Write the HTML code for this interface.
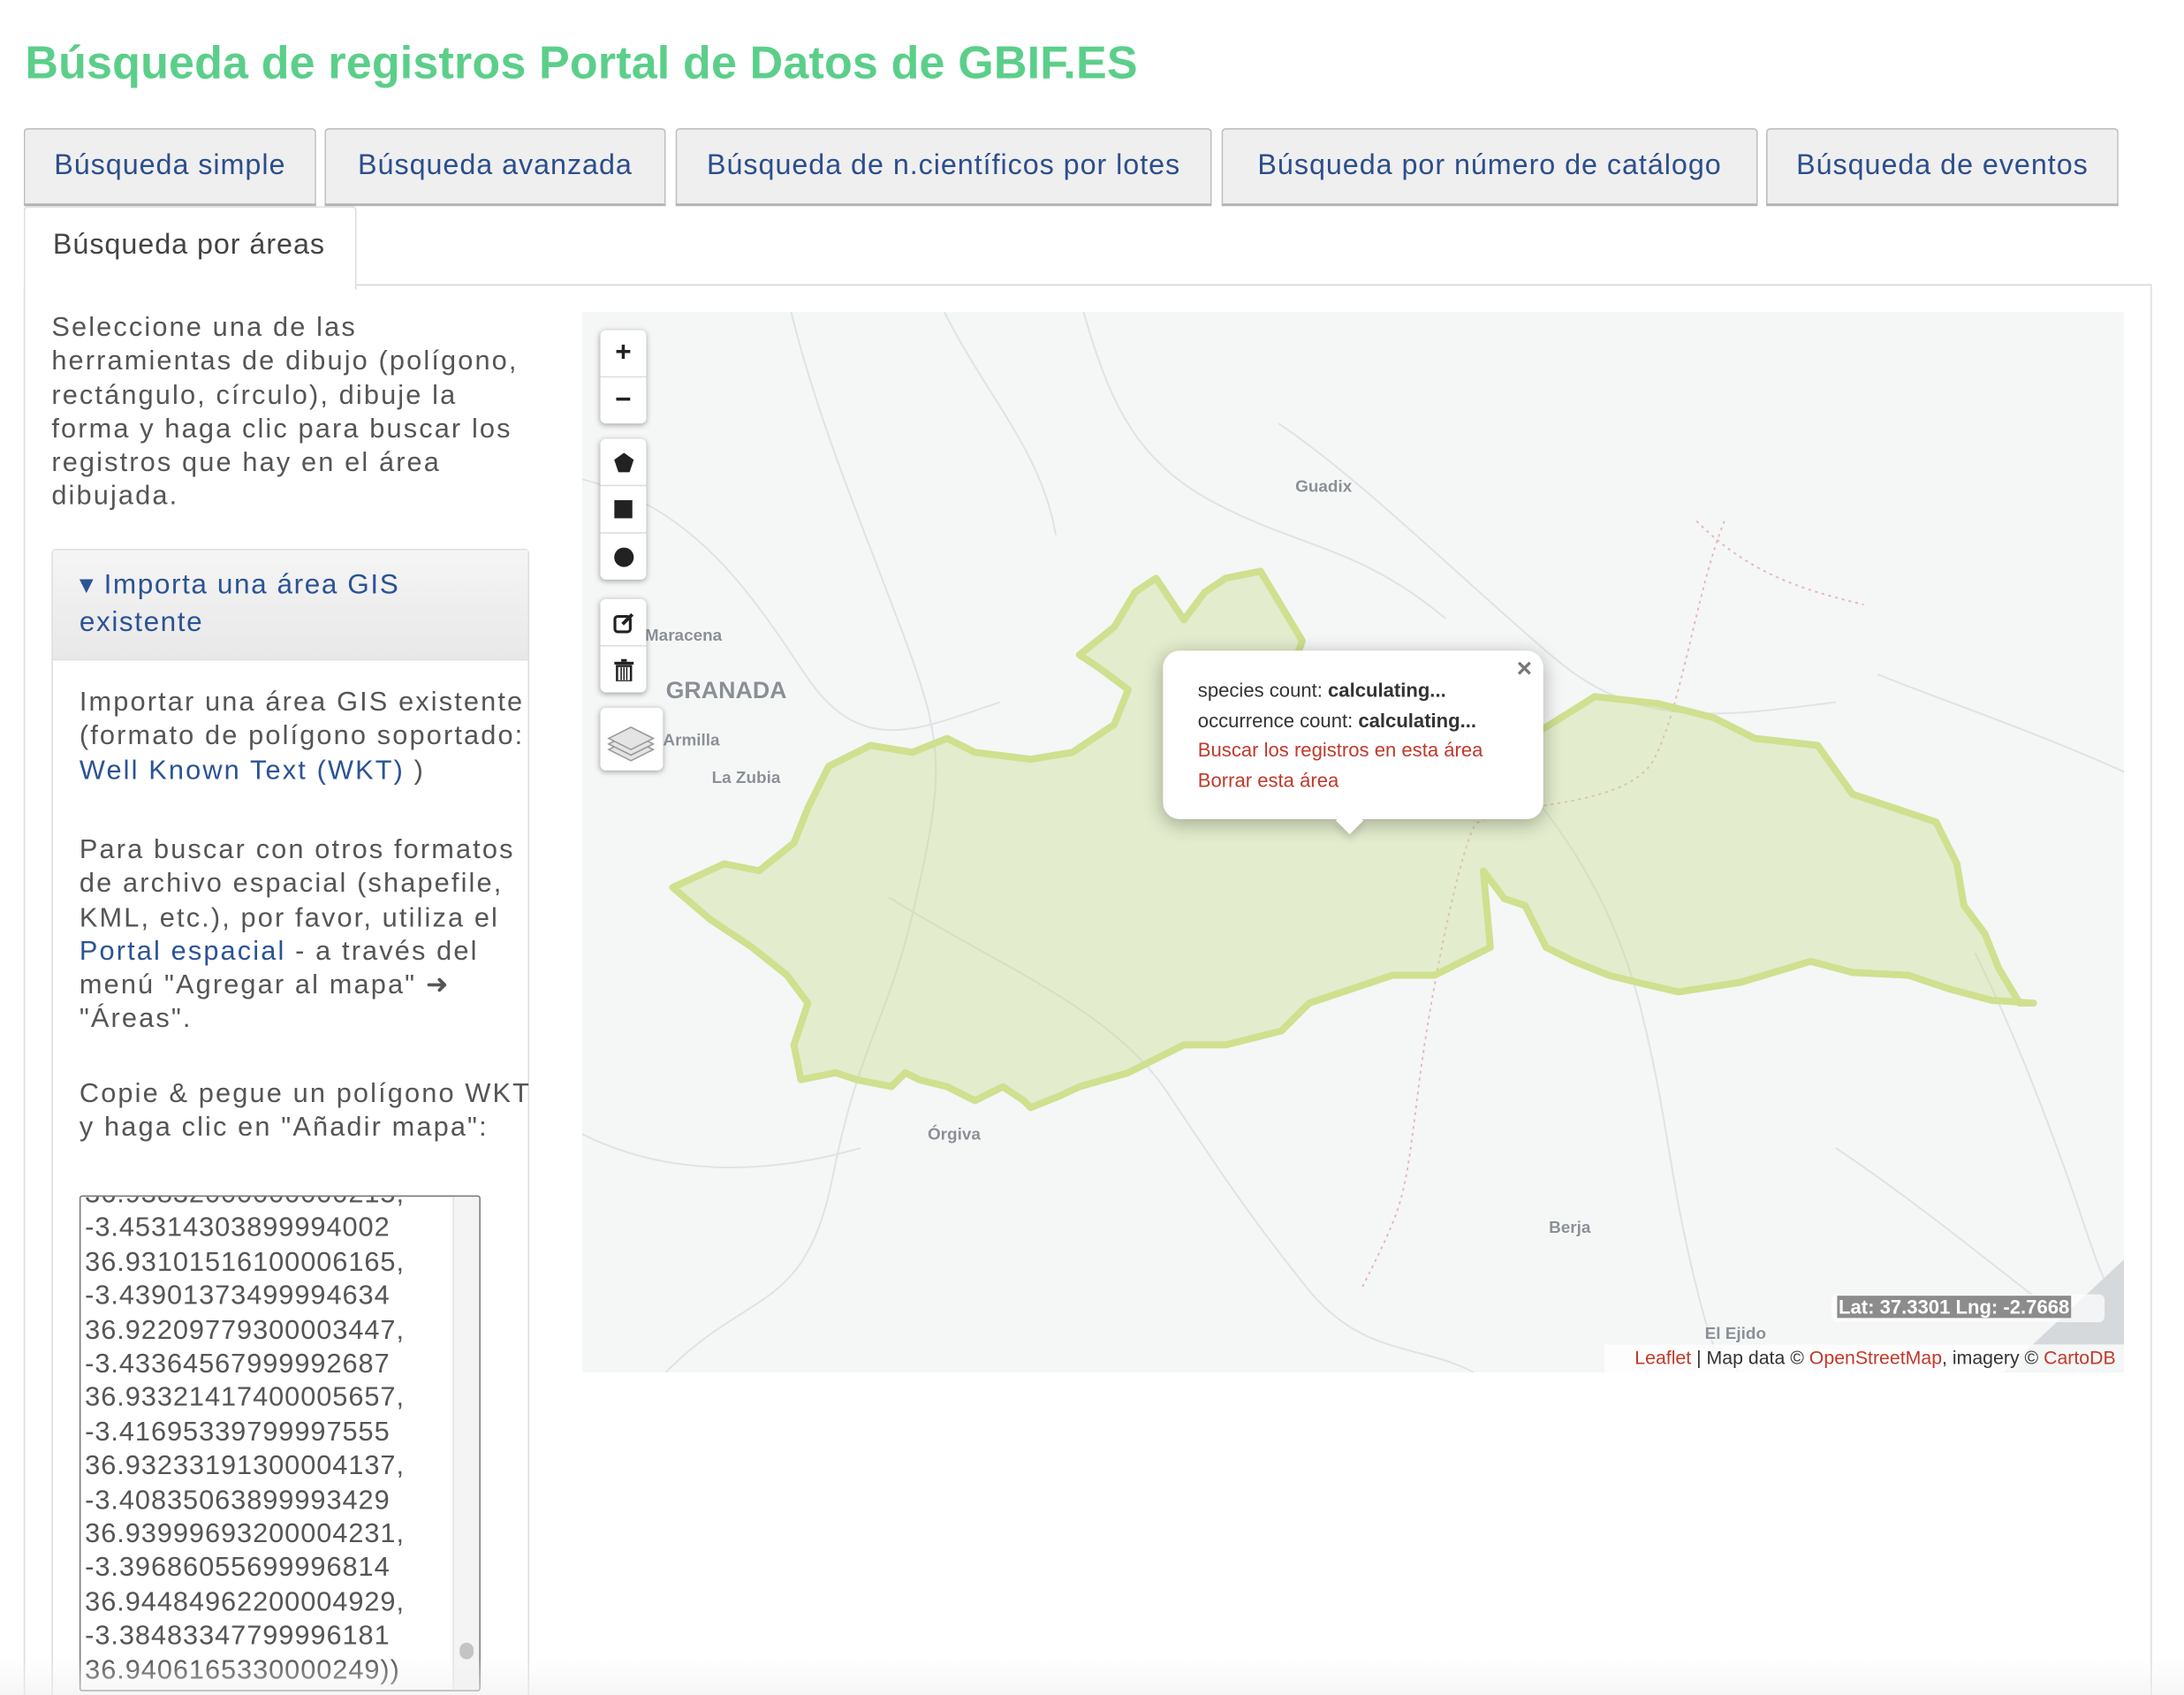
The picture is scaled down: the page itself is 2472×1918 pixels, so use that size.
<!DOCTYPE html>
<html><head><meta charset="utf-8">
<style>
html,body{margin:0;padding:0;background:#fff;overflow:hidden}
body{width:2472px;height:1918px;position:relative}
#wrap{position:absolute;left:0;top:0;width:1568px;height:1217px;transform:scale(1.5765);transform-origin:0 0;font-family:"Liberation Sans",sans-serif}
.abs{position:absolute}
h1{position:absolute;left:18px;top:26px;margin:0;font-size:33px;font-weight:bold;color:#5bcf8a;letter-spacing:0.1px;white-space:nowrap}
.tab{position:absolute;top:92px;height:56px;background:#efefef;border:1px solid #bdbdbd;border-bottom:2px solid #b3b3b3;border-radius:3px 3px 0 0;box-sizing:border-box;color:#2c4e8c;font-size:20.5px;letter-spacing:0.6px;line-height:52px;text-align:center;white-space:nowrap}
.txt{position:absolute;color:#555;font-size:19.5px;letter-spacing:1.35px;line-height:24.3px;white-space:nowrap}
.lnk{color:#2b5395}
.ctl{position:absolute;left:431px;width:33px;background:#fff;border-radius:4px;box-shadow:0 1px 4px rgba(0,0,0,.35)}
.ctl div{height:33px;border-bottom:1px solid #ddd;display:flex;align-items:center;justify-content:center;font-size:20px;font-weight:bold;color:#222}
.ctl div:last-child{border-bottom:none}
.place{position:absolute;color:#8a9096;font-size:12px;font-weight:bold;white-space:nowrap;text-shadow:0 0 2px #fff}
</style></head><body>
<div id="wrap">
<h1>Búsqueda de registros Portal de Datos de GBIF.ES</h1>

<div class="tab" style="left:17px;width:210px">Búsqueda simple</div>
<div class="tab" style="left:233px;width:245px">Búsqueda avanzada</div>
<div class="tab" style="left:485px;width:385px">Búsqueda de n.científicos por lotes</div>
<div class="tab" style="left:877px;width:385px">Búsqueda por número de catálogo</div>
<div class="tab" style="left:1268px;width:253px">Búsqueda de eventos</div>

<div class="abs" style="left:256px;top:204px;width:1289px;height:1px;background:#d6d6d6"></div>
<div class="abs" style="left:17px;top:148px;width:239px;height:60px;background:#fff;border:1px solid #ddd;border-bottom:none;border-radius:3px 3px 0 0;box-sizing:border-box;color:#444;font-size:20.5px;letter-spacing:0.6px;line-height:54px;padding-left:20px;white-space:nowrap">Búsqueda por áreas</div>
<div class="abs" style="left:17px;top:206px;width:1px;height:1011px;background:#ddd"></div>
<div class="abs" style="left:1544px;top:204px;width:1px;height:1013px;background:#ddd"></div>

<div class="txt" style="left:37px;top:223px">Seleccione una de las<br>herramientas de dibujo (polígono,<br>rectángulo, círculo), dibuje la<br>forma y haga clic para buscar los<br>registros que hay en el área<br>dibujada.</div>

<div class="abs" style="left:37px;top:394px;width:343px;height:830px;border:1px solid #ddd;border-radius:3px;box-sizing:border-box">
  <div style="height:78px;background:linear-gradient(#f5f5f5,#e8e8e8);border-bottom:1px solid #ddd">
    <div class="txt" style="left:19px;top:12px;color:#2b5395;font-size:20px;letter-spacing:1px;line-height:27px">▾ Importa una área GIS<br>existente</div>
  </div>
</div>
<div class="txt" style="left:57px;top:492px">Importar una área GIS existente<br>(formato de polígono soportado:<br><span class="lnk">Well Known Text (WKT)</span> )</div>
<div class="txt" style="left:57px;top:598px">Para buscar con otros formatos<br>de archivo espacial (shapefile,<br>KML, etc.), por favor, utiliza el<br><span class="lnk">Portal espacial</span> - a través del<br>menú "Agregar al mapa" ➜<br>"Áreas".</div>
<div class="txt" style="left:57px;top:773px">Copie &amp; pegue un polígono WKT<br>y haga clic en "Añadir mapa":</div>

<div class="abs" style="left:57px;top:858px;width:288px;height:356px;border:1px solid #777;border-radius:2px;box-sizing:border-box;overflow:hidden;background:#fff">
  <div class="txt" style="left:3px;top:-14px;font-size:19.5px;letter-spacing:0.6px;line-height:24.4px;color:#555">36.93832000000000215,<br>-3.45314303899994002<br>36.93101516100006165,<br>-3.43901373499994634<br>36.92209779300003447,<br>-3.43364567999992687<br>36.93321417400005657,<br>-3.41695339799997555<br>36.93233191300004137,<br>-3.40835063899993429<br>36.93999693200004231,<br>-3.39686055699996814<br>36.94484962200004929,<br>-3.38483347799996181<br>36.9406165330000249))</div>
  <div class="abs" style="right:0;top:0;width:18px;height:356px;background:#f4f4f4;border-left:1px solid #e4e4e4"><div class="abs" style="left:4px;top:320px;width:10px;height:12px;border-radius:5px;background:#c4c4c4"></div></div>
</div>

<!-- MAP -->
<div class="abs" style="left:418px;top:224px;width:1107px;height:761px;background:#f5f6f6;overflow:hidden">
<svg width="1107" height="761" style="position:absolute;left:0;top:0">
  <g fill="none" stroke="#dfe3e6" stroke-width="1.3">
    <path d="M0,120 C80,140 120,200 160,260 S240,300 300,280"/>
    <path d="M150,0 C170,80 200,150 230,230 S260,330 240,420 S200,520 180,620 S120,700 60,761"/>
    <path d="M360,0 C380,70 400,110 460,140 S560,170 620,220"/>
    <path d="M500,80 C560,120 640,200 700,250 S820,290 900,280"/>
    <path d="M220,420 C300,470 380,500 420,560 S480,650 520,700 S600,740 640,761"/>
    <path d="M0,590 C60,620 130,620 200,600"/>
    <path d="M640,300 C700,360 740,420 760,500 S780,620 800,700 S820,740 830,761"/>
    <path d="M930,260 C980,280 1040,300 1107,330"/>
    <path d="M1000,460 C1030,520 1060,600 1080,660 S1100,700 1107,710"/>
    <path d="M260,0 C290,60 330,100 340,160"/>
    <path d="M900,600 C960,640 1020,690 1060,720"/>
  </g>
  <g fill="none" stroke="#e2b8b8" stroke-width="1.2" stroke-dasharray="2,3">
    <path d="M820,150 C800,200 790,280 770,320 S650,350 640,370 S610,480 600,560 S590,640 560,700"/>
    <path d="M800,150 C840,190 880,200 920,210"/>
  </g>
  <path d="M1020,761 L1107,680 L1107,761Z" fill="#d5d9dc"/>
</svg>
<div class="place" style="left:512px;top:118px">Guadix</div>
<div class="place" style="left:45px;top:225px">Maracena</div>
<div class="place" style="left:60px;top:262px;font-size:17px">GRANADA</div>
<div class="place" style="left:58px;top:300px">Armilla</div>
<div class="place" style="left:93px;top:327px">La Zubia</div>
<div class="place" style="left:248px;top:583px">Órgiva</div>
<div class="place" style="left:694px;top:650px">Berja</div>
<div class="place" style="left:806px;top:726px">El Ejido</div>

<svg id="poly" width="1107" height="761" style="position:absolute;left:0;top:0"></svg>
</div>

<div class="ctl" style="top:237px">
  <div>+</div>
  <div>−</div>
</div>
<div class="ctl" style="top:315px">
  <div><svg width="16" height="16"><polygon points="8,1 15,6 12,15 4,15 1,6" fill="#222"/></svg></div>
  <div><svg width="14" height="14"><rect width="13" height="13" fill="#222"/></svg></div>
  <div><svg width="16" height="16"><circle cx="8" cy="8" r="7" fill="#222"/></svg></div>
</div>
<div class="ctl" style="top:430px">
  <div><svg width="16" height="16"><rect x="1.5" y="3.5" width="11" height="11" rx="2" fill="none" stroke="#222" stroke-width="2"/><path d="M7,9 L14,2" stroke="#222" stroke-width="2.5"/></svg></div>
  <div><svg width="14" height="16"><rect x="0" y="2" width="14" height="2" fill="#222"/><rect x="5" y="0" width="4" height="2" fill="#222"/><rect x="2" y="5" width="10" height="11" fill="none" stroke="#222" stroke-width="1.6"/><path d="M5,6 V15 M7,6 V15 M9,6 V15" stroke="#222"/></svg></div>
</div>
<div class="abs" style="left:431px;top:508px;width:45px;height:45px;background:#fff;border-radius:4px;box-shadow:0 1px 4px rgba(0,0,0,.35)">
  <svg width="45" height="45"><g fill="#e4e4e4" stroke="#999" stroke-width="1"><path d="M6,30 L22,22 L38,30 L22,38Z"/><path d="M6,26 L22,18 L38,26 L22,34Z"/><path d="M6,22 L22,14 L38,22 L22,30Z"/></g></svg>
</div>

<!-- popup -->
<div class="abs" style="left:835px;top:467px;width:273px;height:121px;background:#fff;border-radius:12px;box-shadow:0 3px 14px rgba(0,0,0,.3)">
  <div class="abs" style="right:8px;top:3px;font-size:19px;color:#777;font-weight:bold">×</div>
  <div class="abs" style="left:25px;top:18px;font-size:14px;line-height:21.5px;color:#333;white-space:nowrap">
    <div>species count: <b>calculating...</b></div>
    <div>occurrence count: <b>calculating...</b></div>
    <div style="color:#c0392b">Buscar los registros en esta área</div>
    <div style="color:#c0392b">Borrar esta área</div>
  </div>
  <div class="abs" style="left:127px;top:115px;width:14px;height:14px;background:#fff;transform:rotate(45deg);box-shadow:3px 3px 5px rgba(0,0,0,.12)"></div>
</div>

<div class="abs" style="left:1315px;top:929px;width:196px;height:20px;background:rgba(255,255,255,.7);border-radius:4px">
  <span class="abs" style="left:4px;top:1px;background:#8c8c8c;color:#fff;font-size:14px;font-weight:bold;padding:0 1px;white-space:nowrap">Lat: 37.3301 Lng: -2.7668</span>
</div>
<div class="abs" style="left:1152px;top:965px;width:373px;height:20px;background:rgba(255,255,255,.75);font-size:13.5px;line-height:20px;color:#333;white-space:nowrap;text-align:right;padding-right:6px;box-sizing:border-box"><span style="color:#c0392b">Leaflet</span> | Map data © <span style="color:#c0392b">OpenStreetMap</span>, imagery © <span style="color:#c0392b">CartoDB</span></div>

<div class="abs" style="left:0;top:1190px;width:1568px;height:27px;background:linear-gradient(rgba(255,255,255,0),rgba(240,240,240,.6))"></div>
</div>

<script>
const polyX=[65,102,127,152,162,177,207,237,262,282,322,352,382,392,372,357,382,397,412,432,447,462,487,502,517,512,540,600,687,727,772,812,842,887,912,972,987,992,1007,1017,1032,1042,1012,982,952,912,882,832,787,757,737,712,692,677,662,647,652,632,612,582,552,522,502,462,432,412,392,357,342,322,317,302,282,262,242,232,222,197,182,157,152,162,147,122,92,65];
const polyY=[413,396,401,381,356,326,311,316,306,316,321,316,296,271,256,246,226,201,191,221,201,191,186,211,236,250,290,310,301,276,281,291,306,311,346,366,396,426,446,471,496,496,494,486,476,474,466,481,488,481,476,466,456,426,421,401,456,466,476,476,486,496,516,526,526,536,546,556,563,571,566,556,566,556,551,546,556,551,546,551,526,496,476,456,436,413];
const svg=document.getElementById('poly');
const pts=polyX.map((x,i)=>x+','+polyY[i]).join(' ');
const pg=document.createElementNS('http://www.w3.org/2000/svg','polygon');
pg.setAttribute('points',pts);
pg.setAttribute('fill','rgba(196,220,140,0.38)');
pg.setAttribute('stroke','#cfe08f');
pg.setAttribute('stroke-width','5');
pg.setAttribute('stroke-linejoin','round');


svg.appendChild(pg);
</script>
</body></html>
